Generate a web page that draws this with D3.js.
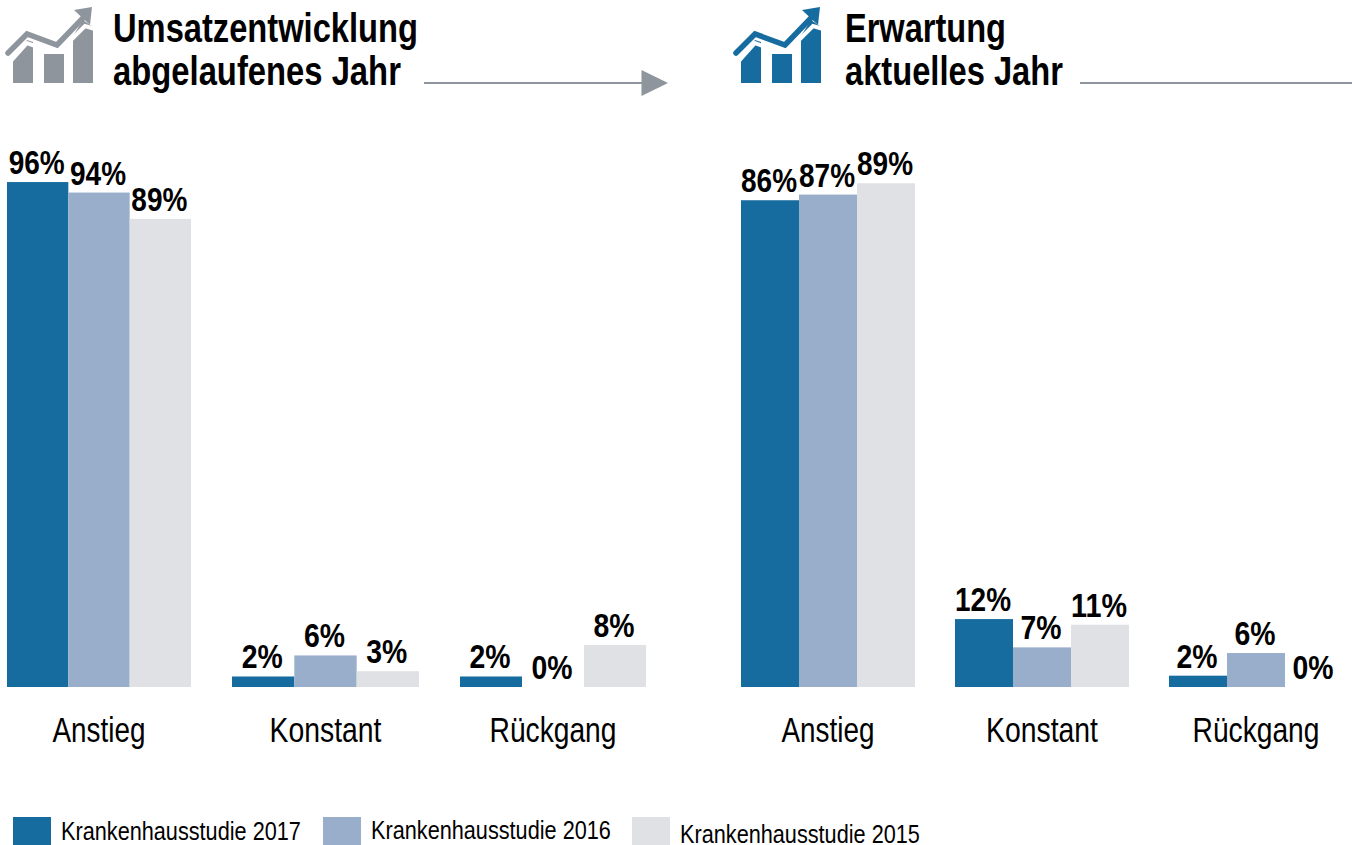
<!DOCTYPE html>
<html><head><meta charset="utf-8">
<script src="https://cdn.jsdelivr.net/npm/d3@7"></script>
<style>html,body{margin:0;background:#fff}svg{display:block}text{font-family:"Liberation Sans",Arial,sans-serif;fill:#000}</style>
</head><body><svg id="c" width="1352" height="845"></svg>
<script>
const categories = ["Anstieg","Konstant","Rückgang"];
const seriesNames = ["Krankenhausstudie 2017","Krankenhausstudie 2016","Krankenhausstudie 2015"];
const colors = ["#166c9f","#98aecb","#dfe1e5"];
const umsatz2017 = [96,2,2];
const umsatz2016 = [94,6,0];
const umsatz2015 = [89,3,8];
const erwartung2017 = [86,12,2];
const erwartung2016 = [87,7,6];
const erwartung2015 = [89,11,0];
const svg = d3.select("#c");
const base = 687;
const catWidth = {"Anstieg":93,"Konstant":112,"Rückgang":127};

// Condense text to a target width with a real horizontal scale (the reference type is a narrow face)
function squeezed(sel,w){
  const x = +sel.attr("x"), y = +sel.attr("y");
  const k = w / sel.node().getComputedTextLength();
  return sel.attr("x",null).attr("y",null).attr("transform",`translate(${x},${y}) scale(${k},1)`);
}

function panel(rows, starts, widths, pxPerPct){
  const y = d3.scaleLinear().domain([0,100]).range([base,base-100*pxPerPct]);
  categories.forEach((c,i)=>{
    const xs = d3.scaleBand().domain([0,1,2]).range([starts[i],starts[i]+widths[i]]);
    rows.forEach((r,s)=>{
      svg.append("rect").attr("x",xs(s)).attr("width",xs.bandwidth()).attr("y",y(r[i])).attr("height",base-y(r[i])).attr("fill",colors[s]);
      const label = r[i]+"%";
      squeezed(svg.append("text").attr("x",xs(s)+xs.bandwidth()/2-1).attr("y",y(r[i])-8).attr("text-anchor","middle")
       .attr("font-size",34).attr("font-weight","bold").text(label), label.length===3?56:41);
    });
    squeezed(svg.append("text").attr("x",starts[i]+widths[i]/2).attr("y",742).attr("text-anchor","middle").attr("font-size",35).text(c), catWidth[c]);
  });
}
panel([umsatz2017,umsatz2016,umsatz2015],[7,232,460],[184,187,186],5.26);
panel([erwartung2017,erwartung2016,erwartung2015],[741,955,1169],[174,174,174],5.66);

function icon(dx,col){
  const g = svg.append("g").attr("transform",`translate(${dx},0)`).attr("fill",col);
  g.append("path").attr("d","M13 59L27 40L33 42V83H13Z");
  g.append("path").attr("d","M73 36L83 20L93 27V83H73Z");
  g.append("path").attr("d","M10 62L27 43L57 54L85 26L95 29").attr("fill","none").attr("stroke","#fff").attr("stroke-width",4);
  g.append("rect").attr("x",44).attr("y",54).attr("width",20).attr("height",29);
  g.append("path").attr("d","M8 53L27 34L57 45L83 18").attr("fill","none").attr("stroke",col).attr("stroke-width",5.5).attr("stroke-linecap","round");
  g.append("path").attr("d","M74 10L92 7L90 25Z");
}
icon(0,"#8f959c");
icon(728,"#166c9f");

function title(t,x,y,w){
  squeezed(svg.append("text").attr("x",x).attr("y",y).attr("font-size",40).attr("font-weight","bold").text(t),w);
}
title("Umsatzentwicklung",113,42,305);
title("abgelaufenes Jahr",113,85,288);
title("Erwartung",845,42,161);
title("aktuelles Jahr",845,85,218);

svg.append("line").attr("x1",424).attr("x2",645).attr("y1",83).attr("y2",83).attr("stroke","#8f959c").attr("stroke-width",2);
svg.append("path").attr("d","M641.5 70L668 83L641.5 96Z").attr("fill","#8f959c");
svg.append("line").attr("x1",1080).attr("x2",1352).attr("y1",83).attr("y2",83).attr("stroke","#8f959c").attr("stroke-width",2);

const legendX = [13,323,632], legendTextY = [840,839,843];
seriesNames.forEach((n,i)=>{
  svg.append("rect").attr("x",legendX[i]).attr("y",817).attr("width",38).attr("height",28).attr("fill",colors[i]);
  squeezed(svg.append("text").attr("x",legendX[i]+48).attr("y",legendTextY[i]).attr("font-size",25).text(n),240);
});
</script></body></html>
